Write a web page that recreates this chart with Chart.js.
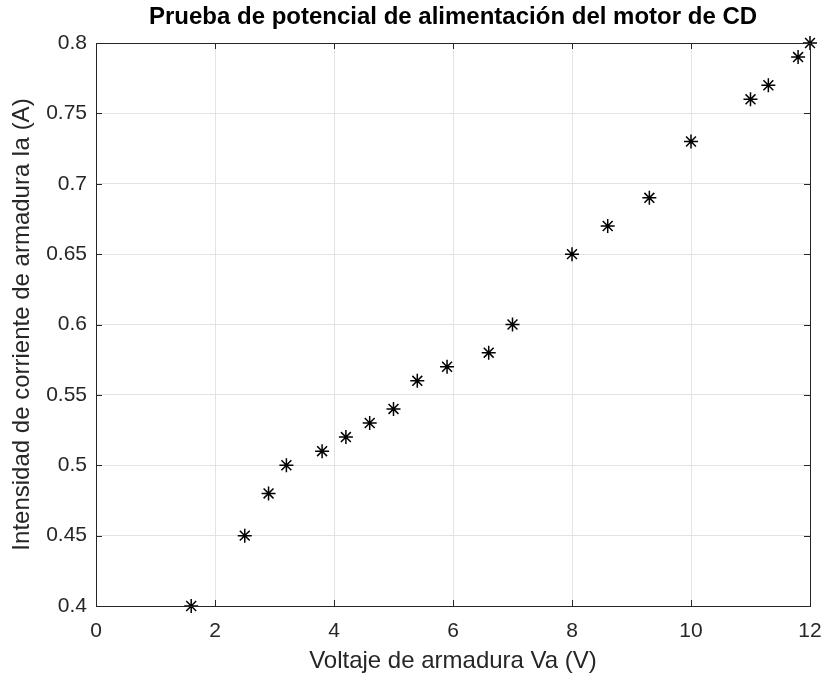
<!DOCTYPE html>
<html>
<head>
<meta charset="utf-8">
<script src="https://cdn.jsdelivr.net/npm/chart.js@4"></script>
<style>
  html, body { margin: 0; padding: 0; background: #fff; }
  #wrap { width: 825px; height: 677px; }
</style>
</head>
<body>
<div id="wrap"><canvas id="grafica_motor"></canvas></div>
<script>
// datos medidos: voltaje de armadura (V) y corriente (A)
const voltaje = [1.6, 2.5, 2.9, 3.2, 3.8, 4.2, 4.6, 5.0, 5.4, 5.9, 6.6, 7.0, 8.0, 8.6, 9.3, 10.0, 11.0, 11.3, 11.8, 12.0];
const corriente = [0.40, 0.45, 0.48, 0.50, 0.51, 0.52, 0.53, 0.54, 0.56, 0.57, 0.58, 0.60, 0.65, 0.67, 0.69, 0.73, 0.76, 0.77, 0.79, 0.80];
const ticksX = [0, 2, 4, 6, 8, 10, 12];
const ticksY = [0.4, 0.45, 0.5, 0.55, 0.6, 0.65, 0.7, 0.75, 0.8];
const titulo = 'Prueba de potencial de alimentación del motor de CD';

const puntos = voltaje.map((v, i) => ({ x: v, y: corriente[i] }));

// caja, marcas hacia dentro y titulo centrado sobre los ejes (estilo MATLAB)
const cajaMatlab = {
    id: 'cajaMatlab',
    afterDatasetsDraw(chart) {
        const { ctx, chartArea: a, scales } = chart;
        ctx.save();
        ctx.strokeStyle = '#262626';
        ctx.lineWidth = 1;
        const largo = 6;
        ctx.beginPath();
        ticksX.forEach(t => {
            const px = Math.round(scales.x.getPixelForValue(t)) + 0.5;
            ctx.moveTo(px, a.bottom); ctx.lineTo(px, a.bottom - largo);
            ctx.moveTo(px, a.top); ctx.lineTo(px, a.top + largo);
        });
        ticksY.forEach(t => {
            const py = Math.round(scales.y.getPixelForValue(t)) + 0.5;
            ctx.moveTo(a.left, py); ctx.lineTo(a.left + largo, py);
            ctx.moveTo(a.right, py); ctx.lineTo(a.right - largo, py);
        });
        ctx.stroke();
        ctx.strokeRect(Math.round(a.left) + 0.5, Math.round(a.top) + 0.5,
            Math.round(a.right - a.left), Math.round(a.bottom - a.top));

        ctx.fillStyle = '#000000';
        ctx.font = 'bold 24px "Liberation Sans"';
        ctx.textAlign = 'center';
        ctx.textBaseline = 'middle';
        ctx.fillText(titulo, (a.left + a.right) / 2, 17);
        ctx.restore();
    }
};

const cty = document.getElementById('grafica_motor');
const grafica_motor = new Chart(cty, {
    type: 'scatter',
    data: {
        datasets: [{
            label: 'Ia',
            data: puntos,
            pointStyle: 'star',
            pointRadius: 7,
            pointHoverRadius: 7,
            borderColor: '#000000',
            backgroundColor: '#000000',
            pointBorderWidth: 1.5,
            clip: false
        }]
    },
    options: {
        responsive: true,
        maintainAspectRatio: false,
        animation: false,
        events: [],
        layout: { autoPadding: false, padding: { left: 0, right: 3, top: 43, bottom: 0 } },
        plugins: {
            legend: { display: false },
            tooltip: { enabled: false },
            title: { display: false }
        },
        scales: {
            x: {
                type: 'linear',
                min: 0,
                max: 12,
                afterFit: s => { s.height = 71; s.paddingRight = 15; s.paddingLeft = 0; },
                afterBuildTicks: s => { s.ticks = ticksX.map(v => ({ value: v })); },
                grid: { color: '#e3e3e3', drawTicks: false },
                border: { display: false },
                ticks: {
                    color: '#262626',
                    padding: 13,
                    font: { family: 'Liberation Sans', size: 21 },
                    maxRotation: 0
                },
                title: {
                    display: true,
                    text: 'Voltaje de armadura Va (V)',
                    color: '#262626',
                    font: { family: 'Liberation Sans', size: 24 },
                    padding: { top: 0, bottom: 1 }
                }
            },
            y: {
                type: 'linear',
                min: 0.4,
                max: 0.8,
                afterFit: s => { s.width = 96; s.paddingTop = 0; s.paddingBottom = 0; },
                afterBuildTicks: s => { s.ticks = ticksY.map(v => ({ value: v })); },
                grid: { color: '#e3e3e3', drawTicks: false },
                border: { display: false },
                ticks: {
                    color: '#262626',
                    padding: 9,
                    font: { family: 'Liberation Sans', size: 21 },
                    callback: v => String(Math.round(v * 100) / 100)
                },
                title: {
                    display: true,
                    text: 'Intensidad de corriente de armadura Ia (A)',
                    color: '#262626',
                    font: { family: 'Liberation Sans', size: 24 },
                    padding: { top: 8, bottom: 0 }
                }
            }
        }
    },
    plugins: [cajaMatlab]
});
</script>
</body>
</html>
